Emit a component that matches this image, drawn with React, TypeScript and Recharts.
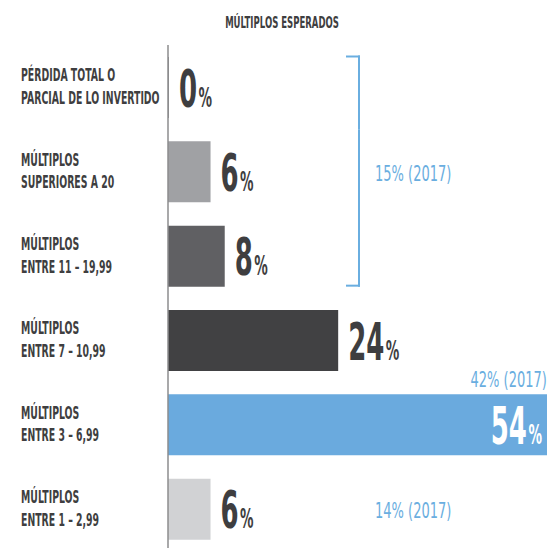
import React from 'react';
import { BarChart, Bar, XAxis, YAxis, Cell, LabelList, Customized } from 'recharts';

// ---- data ----
const categories = [
  'PÉRDIDA TOTAL O\nPARCIAL DE LO INVERTIDO',
  'MÚLTIPLOS\nSUPERIORES A 20',
  'MÚLTIPLOS\nENTRE 11 – 19,99',
  'MÚLTIPLOS\nENTRE 7 – 10,99',
  'MÚLTIPLOS\nENTRE 3 – 6,99',
  'MÚLTIPLOS\nENTRE 1 – 2,99',
];
const expected = [0, 6, 8, 24, 54, 6];
const previous2017: (number | null)[] = [null, 15, null, null, 42, 14];
// categories 0..2 are grouped together by the 15% (2017) bracket
const bracketGroup = [0, 2];
const title = 'MÚLTIPLOS ESPERADOS';

// ---- styles ----
const barColors = ['#8c8c8e', '#a0a1a4', '#606063', '#414143', '#6aaade', '#d1d2d4'];
const FONT = "'DejaVu Sans', sans-serif";
const TEXT_DARK = '#3e3e40';
const BLUE = '#6aaee0';

const CHART_W = 558;
const CHART_H = 551;
const MARGIN_TOP = 45;
const AXIS_W = 168;
const BAR_SIZE = 61;
const BAND = (CHART_H - MARGIN_TOP) / categories.length;
const HALF_GAP = (BAND - BAR_SIZE) / 2;
const BRACKET_X = 359;
const ANNOT_X = 375;

const data = categories.map((name, i) => ({
  name,
  value: expected[i],
  prev: previous2017[i],
}));
const maxValue = Math.max(...expected);

const CategoryTick = (props: any) => {
  const { y, payload } = props;
  const lines = String(payload.value).split('\n');
  return (
    <g transform={`translate(21, ${y})`}>
      <text
        transform="scale(0.55,1)"
        fontFamily={FONT}
        fontWeight="bold"
        fontSize={17}
        fill={TEXT_DARK}
      >
        {lines.map((l, i) => (
          <tspan key={i} x={0} y={i === 0 ? -6 : 17}>
            {l}
          </tspan>
        ))}
      </text>
    </g>
  );
};

const getBox = (props: any) => {
  const vb = props.viewBox || {};
  const x = props.x ?? vb.x;
  const y = props.y ?? vb.y;
  const width = props.width ?? vb.width ?? 0;
  const height = props.height ?? vb.height ?? 0;
  return { x: Number(x), y: Number(y), width: Number(width), height: Number(height) };
};

const ValueLabel = (props: any) => {
  const { index, value } = props;
  const { x, y, width, height } = getBox(props);
  const cy = y + height / 2;
  const inside = value === maxValue;
  const tx = inside ? x + width - 9 : x + width + 10;
  const parts: React.ReactNode[] = [];
  parts.push(
    <g key="v" transform={`translate(${tx}, ${cy + 19})`}>
      <text
        transform="scale(0.5,1)"
        textAnchor={inside ? 'end' : 'start'}
        fontFamily={FONT}
        fontWeight="bold"
        fill={inside ? '#ffffff' : TEXT_DARK}
      >
        <tspan fontSize={52}>{value}</tspan>
        <tspan fontSize={27} dx={3}>%</tspan>
      </text>
    </g>
  );
  // bracket pieces spanning the grouped categories
  if (index >= bracketGroup[0] && index <= bracketGroup[1]) {
    const top = index === bracketGroup[0] ? y - 1.5 : y - HALF_GAP;
    const bottom = index === bracketGroup[1] ? y + height : y + height + HALF_GAP;
    parts.push(
      <line key="bv" x1={BRACKET_X} x2={BRACKET_X} y1={top} y2={bottom} stroke={BLUE} strokeWidth={2} />
    );
    if (index === bracketGroup[0]) {
      parts.push(
        <line key="bt" x1={BRACKET_X - 13} x2={BRACKET_X + 1} y1={top + 1} y2={top + 1} stroke={BLUE} strokeWidth={2} />
      );
    }
    if (index === bracketGroup[1]) {
      parts.push(
        <line key="bb" x1={BRACKET_X - 13} x2={BRACKET_X + 1} y1={bottom - 1} y2={bottom - 1} stroke={BLUE} strokeWidth={2} />
      );
    }
  }
  return <g>{parts}</g>;
};

const PrevLabel = (props: any) => {
  const { value } = props;
  if (value === null || value === undefined || value === '') return null;
  const { x, y, width, height } = getBox(props);
  const cy = y + height / 2;
  const above = x + width > ANNOT_X - 10;
  const tx = above ? x + width - 4 : ANNOT_X;
  const ty = above ? y - 7.5 : cy + 9;
  return (
    <g transform={`translate(${tx}, ${ty})`}>
      <text
        transform="scale(0.62,1)"
        textAnchor={above ? 'end' : 'start'}
        fontFamily={FONT}
        fontSize={21}
        fill={BLUE}
      >
        {`${value}% (2017)`}
      </text>
    </g>
  );
};

const Title = () => (
  <g transform="translate(282, 27.5)">
    <text
      transform="scale(0.55,1)"
      textAnchor="middle"
      fontFamily={FONT}
      fontWeight="bold"
      fontSize={15.5}
      fill={TEXT_DARK}
    >
      {title}
    </text>
  </g>
);

export default function App() {
  return (
    <div
      style={{
        position: 'absolute',
        left: 0,
        top: 0,
        width: 547,
        height: 548,
        overflow: 'hidden',
        background: '#ffffff',
      }}
    >
      <BarChart
        width={CHART_W}
        height={CHART_H}
        data={data}
        layout="vertical"
        margin={{ top: MARGIN_TOP, right: 0, bottom: 0, left: 0 }}
        barSize={BAR_SIZE}
      >
        <XAxis type="number" domain={[0, 55]} hide />
        <YAxis
          type="category"
          dataKey="name"
          width={AXIS_W}
          interval={0}
          tickLine={false}
          axisLine={{ stroke: '#8c8c8e', strokeWidth: 1.5 }}
          tick={<CategoryTick />}
        />
        <Bar dataKey="value" isAnimationActive={false} minPointSize={1}>
          {data.map((d, i) => (
            <Cell key={i} fill={barColors[i]} />
          ))}
          <LabelList dataKey="value" content={<ValueLabel />} />
          <LabelList dataKey="prev" content={<PrevLabel />} />
        </Bar>
        <Customized component={<Title />} />
      </BarChart>
    </div>
  );
}
